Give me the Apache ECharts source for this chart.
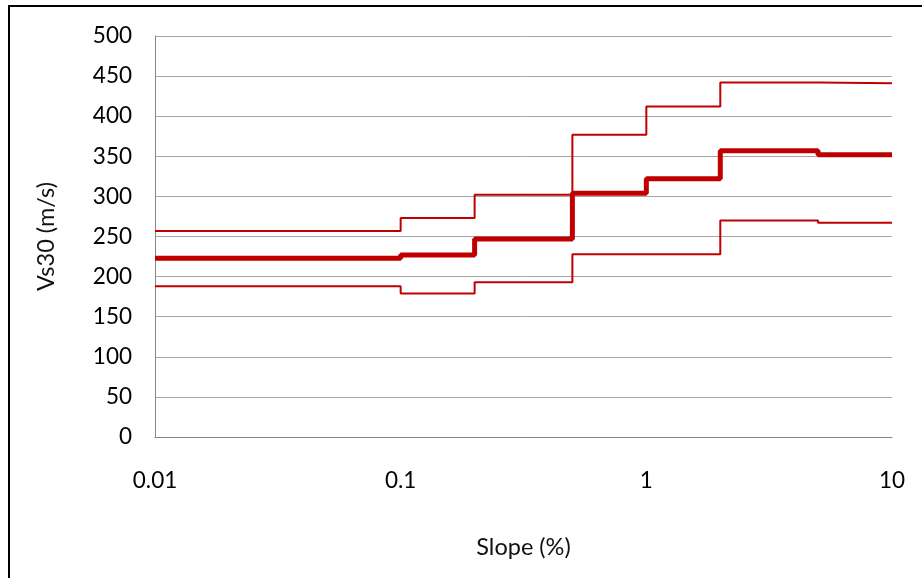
<!DOCTYPE html>
<html>
<head>
<meta charset="utf-8">
<script src="https://cdn.jsdelivr.net/npm/echarts@6/dist/echarts.min.js"></script>
<style>
html,body{margin:0;padding:0;background:#fff;}
#chart{width:922px;height:578px;}
</style>
</head>
<body>
<div id="chart"></div>
<script>
// Segment start slopes (%) and final end
var slopeBreaks = [0.01, 0.1, 0.2, 0.5, 1, 2, 5];
var slopeEnd = 10;
// Vs30 per segment (m/s)
var upperVs30 = [257, 273, 302, 377, 412, 442, 441];
var meanVs30 = [223, 227, 247, 304, 322, 357, 352];
var lowerVs30 = [188, 179, 193, 228, 228, 270, 267];
var xTickLabels = ['0.01', '0.1', '1', '10'];

function stepData(vals) {
  var d = slopeBreaks.map(function (x, i) { return [x, vals[i]]; });
  d.push([slopeEnd, vals[vals.length - 1]]);
  return d;
}

var red = '#c00000';
var fontFam = 'Lato, "Open Sans", sans-serif';
var chart = echarts.init(document.getElementById('chart'));
chart.setOption({
  animation: false,
  backgroundColor: '#fff',
  graphic: [{
    type: 'polyline',
    shape: { points: [[9, 578], [9, 6], [922, 6]] },
    style: { stroke: '#000', lineWidth: 2, fill: null }
  }],
  grid: { left: 155, right: 30, top: 36, bottom: 141 },
  xAxis: {
    type: 'log',
    logBase: 10,
    min: 0.01,
    max: 10,
    name: 'Slope (%)',
    nameLocation: 'middle',
    nameGap: 98,
    nameTextStyle: { fontSize: 23.5, color: '#111', fontFamily: fontFam },
    axisLine: { show: true, lineStyle: { color: '#868686', width: 1 } },
    axisTick: { show: false },
    splitLine: { show: false },
    minorTick: { show: false },
    axisLabel: {
      margin: 32,
      fontSize: 22.5,
      color: '#000',
      fontFamily: fontFam,
      formatter: function (v) {
        var s = String(+v.toPrecision(6));
        return xTickLabels.indexOf(s) >= 0 ? s : '';
      }
    }
  },
  yAxis: {
    type: 'value',
    min: 0,
    max: 500,
    interval: 50,
    name: 'Vs30 (m/s)',
    nameLocation: 'middle',
    nameGap: 97,
    nameRotate: 90,
    nameTextStyle: { fontSize: 23.5, color: '#111', fontFamily: fontFam },
    axisLine: { show: true, lineStyle: { color: '#868686', width: 1 } },
    axisTick: { show: false },
    splitLine: { show: true, lineStyle: { color: '#a6a6a6', width: 1 } },
    axisLabel: { margin: 23, fontSize: 22.5, color: '#000', fontFamily: fontFam }
  },
  series: [
    { name: 'upper', type: 'line', step: 'end', data: stepData(upperVs30), symbol: 'none',
      lineStyle: { color: red, width: 2 } },
    { name: 'mean', type: 'line', step: 'end', data: stepData(meanVs30), symbol: 'none',
      lineStyle: { color: red, width: 5 } },
    { name: 'lower', type: 'line', step: 'end', data: stepData(lowerVs30), symbol: 'none',
      lineStyle: { color: red, width: 2 } }
  ]
});
</script>
</body>
</html>
